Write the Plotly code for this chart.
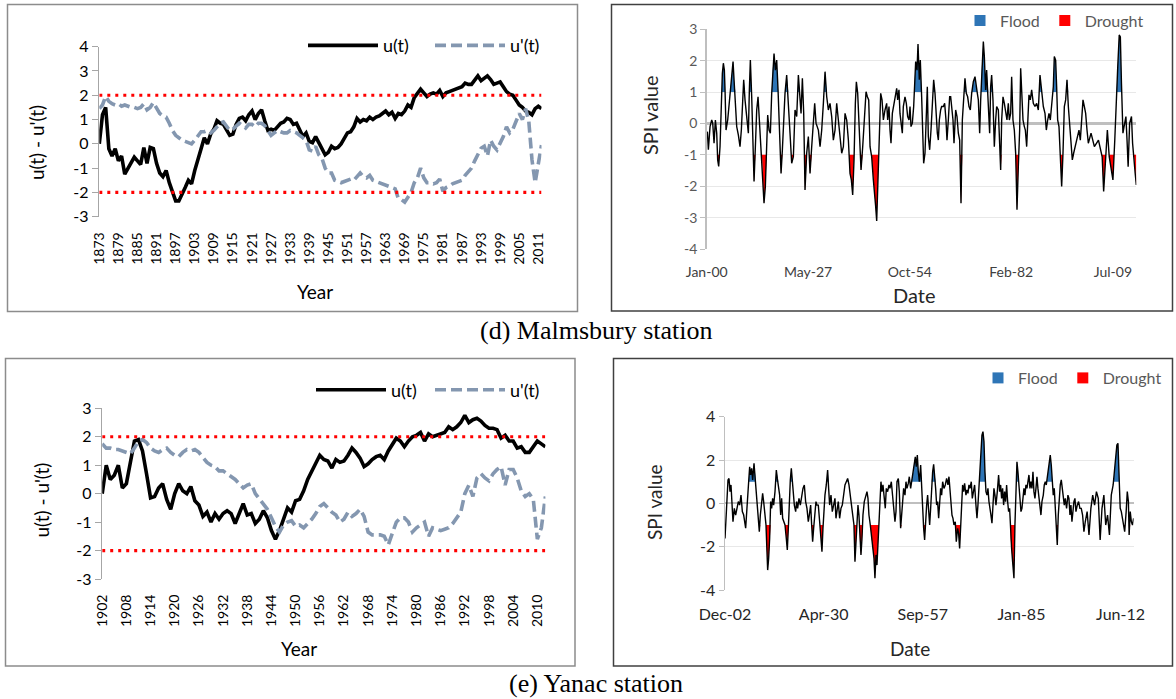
import plotly.graph_objects as go

W, H = 1176, 699


def px(x):
    return x / W


def py(y):
    return 1 - y / H


# ---------------- (d) Malmsbury: u(t), u'(t) ----------------
years_malmsbury = list(range(1873, 2013))
u_malmsbury = [
    0.0, 1.2, 1.5, -0.2, -0.5, -0.2, -0.7, -0.5, -1.25, -1.0,
    -0.8, -0.55, -0.7, -0.85, -0.15, -0.8, -0.15, -0.2, -0.8, -1.2,
    -1.35, -1.1, -1.6, -2.0, -2.35, -2.35, -2.1, -1.8, -1.5, -1.65,
    -1.1, -0.6, -0.2, 0.25, 0.0, 0.4, 0.6, 0.95, 0.85, 0.8,
    0.6, 0.35, 0.4, 0.8, 1.05, 1.1, 0.95, 1.2, 1.35, 1.0,
    1.25, 1.4, 0.95, 0.55, 0.6, 0.55, 0.7, 0.85, 0.9, 1.05,
    1.0, 0.8, 0.85, 0.6, 0.3, 0.45, 0.1, 0.05, 0.3, 0.05,
    -0.2, -0.45, -0.35, -0.1, -0.2, -0.15, 0.0, 0.2, 0.45, 0.5,
    0.7, 1.05, 0.9, 1.0, 0.95, 1.1, 1.0, 1.1, 1.15, 1.25,
    1.35, 1.2, 1.3, 1.05, 1.25, 1.2, 1.35, 1.6, 1.5, 1.9,
    2.1, 2.25, 2.1, 1.95, 2.05, 2.1, 2.05, 2.2, 1.95, 2.1,
    2.15, 2.2, 2.25, 2.3, 2.35, 2.5, 2.45, 2.45, 2.6, 2.8,
    2.6, 2.7, 2.8, 2.65, 2.45, 2.5, 2.55, 2.35, 2.15, 2.05,
    2.0, 1.8, 1.6, 1.5, 1.35, 1.3, 1.2, 1.45, 1.55, 1.45,
]
uprime_malmsbury = [
    1.45, 1.6, 1.95, 1.75, 1.65, 1.6, 1.65, 1.55, 1.6, 1.55,
    1.5, 1.5, 1.45, 1.5, 1.65, 1.4, 1.5, 1.7, 1.45, 1.25,
    1.15, 1.1, 0.85, 0.55, 0.35, 0.25, 0.15, 0.1, 0.05, 0.0,
    0.15, 0.3, 0.5, 0.5, 0.55, 0.45, 0.55, 0.7, 0.85, 0.9,
    0.75, 0.55, 0.6, 0.75, 0.85, 0.75, 0.65, 0.8, 0.8, 0.7,
    0.85, 0.85, 0.75, 0.55, 0.35, 0.45, 0.55, 0.5, 0.45, 0.45,
    0.55, 0.5, 0.45, 0.35, 0.25, 0.15, -0.25, -0.3, -0.1, -0.45,
    -0.6, -1.0, -1.2, -1.2, -1.5, -1.55, -1.6, -1.55, -1.5, -1.45,
    -1.5, -1.35, -1.2, -1.35, -1.4, -1.3, -1.5, -1.55, -1.6, -1.65,
    -1.7, -1.75, -1.8, -1.85, -2.25, -2.3, -2.4, -2.2, -2.0, -1.6,
    -1.4, -1.0, -1.4, -1.6, -1.6, -1.65, -1.6, -1.45, -1.95, -1.8,
    -1.75, -1.65, -1.6, -1.55, -1.5, -1.3, -1.15, -1.0, -0.7, -0.45,
    -0.18, -0.1, -0.5, 0.15, -0.1, -0.25, 0.0, 0.3, 0.7, 0.45,
    0.6, 0.9, 1.25, 1.0, 1.45, 0.95, -0.65, -1.6, -0.8, -0.05,
]
tick_years_malmsbury = list(range(1873, 2013, 6))

# ---------------- (e) Yanac: u(t), u'(t) ----------------
years_yanac = list(range(1902, 2013))
u_yanac = [
    0.0, 1.0, 0.5, 0.65, 1.0, 0.2, 0.35, 1.1, 1.85, 1.9,
    1.5, 0.7, -0.15, -0.1, 0.2, 0.35, -0.2, -0.55, 0.0, 0.35,
    0.1, 0.0, 0.25, -0.25, -0.4, -0.8, -0.65, -1.0, -0.7, -0.9,
    -0.7, -0.6, -0.7, -1.05, -0.7, -0.35, -0.75, -0.7, -1.05, -0.9,
    -0.6, -0.85, -1.3, -1.6, -1.3, -0.9, -0.5, -0.65, -0.25, -0.2,
    0.1, 0.5, 0.8, 1.1, 1.35, 1.2, 1.15, 0.9, 1.2, 1.1,
    1.15, 1.35, 1.6, 1.45, 1.25, 0.95, 1.05, 1.2, 1.3, 1.35,
    1.2, 1.5, 1.75, 1.95, 1.85, 1.65, 1.85, 2.0, 2.05, 2.15,
    1.85, 2.1, 2.0, 2.05, 2.1, 2.15, 2.35, 2.25, 2.35, 2.5,
    2.75, 2.5, 2.6, 2.65, 2.55, 2.4, 2.3, 2.3, 2.25, 1.95,
    2.05, 1.85, 1.85, 1.6, 1.65, 1.45, 1.45, 1.65, 1.85, 1.75,
    1.65,
]
uprime_yanac = [
    1.75, 1.6, 1.6, 1.55, 1.55, 1.5, 1.45, 1.4, 1.6, 1.85,
    1.9, 1.8, 1.6, 1.5, 1.45, 1.55, 1.6, 1.45, 1.35, 1.3,
    1.45, 1.55, 1.5, 1.55, 1.45, 1.25, 1.1, 1.0, 0.95, 0.8,
    0.8, 0.7, 0.6, 0.5, 0.35, 0.2, 0.3, 0.35, 0.0, -0.2,
    -0.4, -0.55, -0.85, -1.15, -1.35, -1.1, -1.0, -0.95, -1.15, -1.1,
    -1.2, -1.05, -0.9, -0.7, -0.45, -0.35, -0.5, -0.65, -0.75, -1.0,
    -0.9, -0.65, -0.8, -0.7, -0.55, -0.8, -1.35, -1.45, -1.45, -1.45,
    -1.5, -1.8, -1.4, -1.0, -0.85, -0.85, -1.0, -1.35, -1.2, -1.1,
    -1.0, -1.5, -1.2, -1.25, -1.3, -1.25, -1.2, -1.05, -0.85, -0.65,
    0.0, 0.3, -0.1, 0.55, 0.7, 0.55, 0.45, 0.7, 0.85, 0.95,
    0.3, 0.85, 0.85, 0.55, 0.1, -0.1, 0.0, -0.2, -1.6, -1.2,
    -0.1,
]
tick_years_yanac = list(range(1902, 2013, 6))

significance_limits = [2, -2]
u_ticks = [-3, -2, -1, 0, 1, 2, 3, 4]
u_ticks_yanac = [-3, -2, -1, 0, 1, 2, 3]

# ---------------- SPI Malmsbury (decimal year, SPI) ----------------
spi_malmsbury_t = [
    1900.18, 1900.45, 1900.90, 1901.35, 1901.62, 1901.98, 1902.34, 1902.70, 1902.96, 1903.23,
    1903.59, 1903.95, 1904.22, 1904.49, 1904.76, 1904.94, 1905.21, 1905.66, 1906.11, 1906.47,
    1906.83, 1907.10, 1907.37, 1907.73, 1908.09, 1908.54, 1908.98, 1909.34, 1909.70, 1909.97,
    1910.33, 1910.78, 1911.23, 1911.50, 1911.77, 1912.13, 1912.40, 1912.76, 1913.12, 1913.48,
    1913.84, 1914.20, 1914.56, 1914.91, 1915.18, 1915.45, 1915.81, 1916.17, 1916.44, 1916.80,
    1917.16, 1917.52, 1917.79, 1918.15, 1918.51, 1918.87, 1919.23, 1919.50, 1919.77, 1920.04,
    1920.40, 1920.75, 1921.11, 1921.56, 1922.01, 1922.46, 1922.91, 1923.36, 1923.81, 1924.26,
    1924.71, 1925.07, 1925.43, 1925.79, 1926.15, 1926.50, 1926.95, 1927.40, 1927.85, 1928.30,
    1928.75, 1929.11, 1929.47, 1930.10, 1930.55, 1931.00, 1931.45, 1931.90, 1932.35, 1932.79,
    1933.24, 1933.69, 1934.14, 1934.59, 1935.04, 1935.49, 1935.94, 1936.39, 1936.84, 1937.29,
    1937.74, 1938.19, 1938.63, 1938.99, 1939.35, 1939.71, 1940.07, 1940.34, 1940.70, 1941.06,
    1941.33, 1941.60, 1942.05, 1942.41, 1942.95, 1943.31, 1943.67, 1944.03, 1944.47, 1944.92,
    1945.28, 1945.55, 1945.82, 1946.18, 1946.54, 1946.90, 1947.26, 1947.62,
    1948.06, 1948.51, 1948.78, 1949.14, 1949.41, 1949.68, 1950.04, 1950.31, 1950.76, 1951.21,
    1951.47, 1951.83, 1952.10, 1952.37, 1952.73, 1953.00, 1953.45, 1953.81, 1954.17, 1954.53,
    1954.80, 1955.07, 1955.43, 1955.79, 1955.97, 1956.33, 1956.69, 1956.96, 1957.31, 1957.58,
    1957.94, 1958.21, 1958.48, 1958.84, 1959.11, 1959.47, 1959.74, 1960.10, 1960.46, 1960.82,
    1961.18, 1961.54, 1961.81, 1962.17, 1962.44, 1962.71, 1963.06, 1963.33, 1963.78, 1964.14,
    1964.50, 1964.77, 1965.13, 1965.49, 1965.76, 1966.03, 1966.39, 1966.66, 1967.11, 1967.47,
    1967.83, 1968.19, 1968.55, 1968.91, 1969.26, 1969.62, 1969.98, 1970.34, 1970.70, 1971.06,
    1971.42, 1971.87, 1972.32, 1972.59, 1972.95, 1973.22, 1973.58, 1973.85, 1974.12, 1974.39,
    1974.57, 1974.84, 1975.19, 1975.46, 1975.91, 1976.27, 1976.54, 1976.81, 1977.17, 1977.53,
    1977.89, 1978.16, 1978.61, 1978.97, 1979.24, 1979.51, 1979.87, 1980.23, 1980.59, 1980.94,
    1981.30, 1981.57, 1981.93, 1982.20, 1982.56, 1982.92, 1983.28, 1983.64, 1984.00, 1984.36,
    1984.63, 1984.90, 1985.26, 1985.62, 1985.89, 1986.25, 1986.52, 1986.87, 1987.23, 1987.59,
    1988.04, 1988.49, 1988.94, 1989.39, 1989.84, 1990.29, 1990.74, 1991.19, 1991.55, 1991.91,
    1992.27, 1992.62, 1992.98, 1993.43, 1993.70, 1994.06, 1994.33, 1994.60, 1994.96, 1995.32,
    1995.68, 1996.04, 1996.40, 1996.76, 1997.12, 1997.48, 1997.84, 1998.20, 1998.55, 1998.91,
    1999.27, 1999.63, 1999.99, 2000.35, 2000.71, 2001.07, 2001.43, 2001.79, 2002.15, 2002.51,
    2002.87,
    2003.6, 2004.5, 2005.6, 2006.6, 2007.0, 2007.5, 2008.0, 2008.5, 2009.0, 2009.5,
    2010.0, 2010.3, 2010.8, 2011.2, 2011.5, 2011.8, 2012.2, 2012.5, 2013.0, 2013.3,
    2013.6, 2014.0, 2014.5, 2014.8, 2015.2, 2015.5, 2015.8,
]
spi_malmsbury_v = [
    -0.26, -0.84, -0.10, 0.11, 0.01, -0.63, 0.11, -0.31, -1.16, -1.37,
    -0.74, 0.64, 1.60, 1.92, 1.70, 1.07, -0.21, 0.11, 0.64, 1.17,
    1.70, 1.97, 1.39, 0.54, -0.10, -0.37, -0.74, -0.21, 0.85, 1.39,
    0.75, 0.11, -0.31, 1.07, 2.02, 0.85, -0.21, -1.85, -0.74, 0.43,
    0.85, 0.11, -0.63, -1.06, -1.69, -2.54, -2.01, -0.74, 0.27, -0.21,
    -0.31, 0.96, 1.70, 2.23, 1.70, 2.02, 1.07, -0.10, -0.53, -1.59,
    -0.84, 0.11, 0.96, 1.54, 0.75, -0.31, -1.27, -1.06, 0.43, 0.22,
    1.54, 0.85, 0.32, 1.44, 0.32, -2.12, -0.95, -0.42, -1.59, -0.74,
    0.11, 0.64, 0.01, -0.21, -0.74, -0.21, 0.64, 1.65, 0.85, 0.43,
    0.64, 0.22, -0.53, -0.21, 0.64, 0.11, -0.21, -0.95, -0.74, 0.32,
    0.11, -0.53, -1.59, -1.80, -2.28, -1.16, 0.64, 1.33, 0.96, 0.11,
    -0.74, -1.48, -0.74, 0.11, 1.01, 0.85, 0.75, -0.74, -1.06, -1.80,
    -2.22, -2.65, -3.11, -1.80, 0.11, 0.96, 0.75, 0.11,
    0.43, 0.64, 0.11, 0.54, -0.21, -0.63, 0.32, 0.54, 0.85, 1.12,
    0.75, 1.07, 0.32, 0.11, -0.31, 0.54, 0.85, 0.64, 0.22, 0.11,
    0.54, -0.10, 0.01, 0.54, 1.17, 1.97, 1.70, 2.53, 1.39, 2.02,
    0.85, -0.10, -1.27, -0.95, 0.32, 1.17, -0.42, -0.84, -0.21, 0.64,
    1.39, 0.96, 0.32, -0.31, -0.53, 0.11, 0.43, 0.54, 0.54, 0.64,
    0.11, -0.53, 0.11, 0.85, 0.85, 0.54, 0.11, -0.63, 0.43, 0.22,
    -0.31, -0.53, -2.54, 0.11, 0.85, 1.44, 0.96, 0.85, 0.54, 0.43,
    0.96, 1.33, 1.49, 1.17, 0.96, 0.75, -0.31, 0.75, 1.70, 2.13,
    2.61, 2.13, 1.07, 1.70, 0.64, -0.31, 1.17, 1.54, 0.75, -0.74,
    0.11, 0.54, 0.43, -0.42, -1.48, 0.11, 0.85, 0.64, 0.32, 0.11,
    0.64, 0.11, 0.32, 1.49, 0.11, -0.21, -0.95, -2.75, -1.37, -0.21,
    1.76, 1.17, 0.11, -0.10, -0.21, -0.74, -0.10, 0.91, 0.75, 1.07,
    0.64, 0.54, 0.64, 0.43, 1.54, 0.96, 0.54, 0.32, -0.21, 0.11,
    0.32, 0.11, 0.64, 1.17, 2.13, 2.02, 1.17, 0.11, -0.10, -0.95,
    -2.01, -0.95, 0.54, 0.75, 1.39, 0.54, -0.10, -0.53, -1.16, -0.95,
    -0.74, -0.53, -0.42, -0.21, -0.53, 0.11, 0.75, 0.54, 0.32, -0.21,
    -0.63,
    -0.31, -0.74, -0.53, -1.06, -2.17, -1.16, -0.21, -1.06, -1.38, -1.80,
    -0.53, 0.54, 1.81, 2.82, 2.76, 1.28, -0.31, -0.10, 0.22, -0.53,
    -1.38, 0.00, 0.22, -0.63, -1.06, -1.59, -1.96,
]
malmsbury_date_ticks = [1900.0, 1927.33, 1954.75, 1982.08, 2009.5]
malmsbury_date_labels = ["Jan-00", "May-27", "Oct-54", "Feb-82", "Jul-09"]
spi_ticks_malmsbury = [-4, -3, -2, -1, 0, 1, 2, 3]

# ---------------- SPI Yanac (decimal year, SPI) ----------------
spi_yanac_t = [
    1902.92, 1903.20, 1903.47, 1903.75, 1904.03, 1904.30, 1904.58, 1904.86, 1905.13, 1905.50,
    1905.87, 1906.24, 1906.61, 1906.98, 1907.35, 1907.72, 1908.09, 1908.64, 1908.92, 1909.19,
    1909.47, 1909.75, 1910.02, 1910.30, 1910.58, 1910.95, 1911.22, 1911.50, 1911.78, 1912.15,
    1912.42, 1912.70, 1913.07, 1913.34, 1913.62, 1913.99, 1914.27, 1914.54, 1914.73, 1915.00,
    1915.28, 1915.56, 1915.83, 1916.11, 1916.39, 1916.76, 1917.13, 1917.40, 1917.68, 1918.05,
    1918.33, 1918.60, 1918.88, 1919.16, 1919.53, 1919.89, 1920.17, 1920.45, 1920.72, 1921.00,
    1921.28, 1921.55, 1921.83, 1922.11, 1922.48, 1922.75, 1923.03, 1923.40, 1923.77, 1924.14,
    1924.51, 1924.88, 1925.24, 1925.61, 1925.98, 1926.26, 1926.63, 1926.91, 1927.18, 1927.46,
    1927.83, 1928.10, 1928.38, 1928.75, 1929.12, 1929.49, 1929.76, 1930.04, 1930.32, 1930.59,
    1930.96, 1931.33, 1931.61, 1931.89, 1932.26, 1932.62, 1932.99, 1933.36, 1933.64, 1934.01,
    1934.28, 1934.65, 1935.02, 1935.39, 1935.76, 1936.13, 1936.50, 1936.87, 1937.24, 1937.61,
    1937.98, 1938.25, 1938.62, 1938.90, 1939.17, 1939.45, 1939.73, 1940.00, 1940.28, 1940.56,
    1940.84, 1941.11, 1941.48, 1941.85, 1942.22, 1942.50, 1942.77, 1943.14, 1943.51, 1943.79,
    1944.16, 1944.43, 1944.71, 1944.99, 1945.26, 1945.54, 1945.82, 1946.09, 1946.37, 1946.65,
    1947.02, 1947.29, 1947.57, 1947.94, 1948.31,
    1948.59, 1948.96, 1949.33, 1949.70, 1949.97, 1950.25, 1950.53, 1950.90, 1951.17, 1951.54,
    1951.82, 1952.10, 1952.37, 1952.74, 1953.02, 1953.30, 1953.66, 1953.94, 1954.31, 1954.68,
    1955.05, 1955.32, 1955.60, 1955.88, 1956.16, 1956.43, 1956.71, 1957.08, 1957.35, 1957.63,
    1957.91, 1958.18, 1958.46, 1958.74, 1959.01, 1959.29, 1959.57, 1959.85, 1960.12, 1960.40,
    1960.68, 1960.95, 1961.23, 1961.51, 1961.78, 1962.06, 1962.34, 1962.61, 1962.89, 1963.17,
    1963.54, 1963.90, 1964.27, 1964.64, 1964.92, 1965.20, 1965.47, 1965.75, 1966.03, 1966.30,
    1966.67, 1966.95, 1967.32, 1967.59, 1967.87, 1968.15, 1968.42, 1968.70, 1968.98, 1969.25,
    1969.62, 1969.90, 1970.18, 1970.45, 1970.73, 1971.10, 1971.38, 1971.65, 1972.02, 1972.39,
    1972.67, 1972.94, 1973.22, 1973.50, 1973.78, 1974.05, 1974.33, 1974.61, 1974.88, 1975.16,
    1975.44, 1975.71, 1975.99, 1976.27, 1976.54, 1976.82, 1977.10, 1977.37, 1977.65, 1977.93,
    1978.30, 1978.66, 1978.94, 1979.22, 1979.49, 1979.77, 1980.05, 1980.32, 1980.60, 1980.88,
    1981.16, 1981.43, 1981.71, 1981.99, 1982.26, 1982.54, 1982.91, 1983.18, 1983.46, 1983.74,
    1984.01, 1984.29, 1984.57, 1984.85, 1985.12, 1985.40, 1985.68, 1985.95, 1986.23, 1986.51,
    1986.78, 1987.06, 1987.34, 1987.61, 1987.89, 1988.17, 1988.44, 1988.72, 1989.00, 1989.27,
    1989.55, 1989.83, 1990.10, 1990.38, 1990.66, 1991.03, 1991.30, 1991.58, 1991.86, 1992.13,
    1992.41, 1992.69, 1992.96, 1993.24, 1993.52, 1993.79, 1994.07, 1994.35, 1994.62, 1994.90,
    1995.18, 1995.45, 1995.73, 1996.01, 1996.28, 1996.56, 1996.84, 1997.11, 1997.48, 1997.85,
    1998.13, 1998.41, 1998.68, 1998.96, 1999.24, 1999.51, 1999.79, 2000.07, 2000.44, 2000.80,
    2001.17, 2001.54, 2001.91, 2002.28,
    2002.65, 2003.17, 2003.68, 2004.20, 2004.71, 2005.23, 2005.74, 2006.25, 2006.77, 2007.28,
    2007.80, 2008.31, 2008.82, 2009.34, 2009.85, 2010.37, 2010.88, 2011.40, 2011.70, 2012.01,
    2012.32, 2012.63, 2012.94, 2013.25, 2013.56, 2013.97, 2014.28, 2014.59, 2014.79, 2015.10,
    2015.41, 2015.72, 2016.03,
]
spi_yanac_v = [
    -1.62, -0.69, 0.54, 1.08, 1.15, 0.54, 0.85, -0.08, -0.85, -0.23,
    -0.54, -0.23, 0.08, -0.08, 0.38, -0.38, -0.54, -1.15, -0.23, 0.54,
    1.00, 1.69, 1.31, 1.62, 1.08, 1.85, 1.31, 0.69, 0.23, -0.54,
    -1.31, -0.54, -0.08, 0.46, 0.08, -0.54, -1.00, -2.23, -3.08, -2.54,
    -1.62, 0.08, -0.23, 0.23, -0.08, 0.54, 1.54, 1.15, 0.85, 0.38,
    -0.54, 0.23, -0.69, -0.85, -1.00, -1.62, -2.15, -1.15, 0.38, 1.08,
    1.62, 1.00, 0.23, -0.08, -0.38, 0.08, -0.23, 0.23, -0.08, 0.38,
    0.69, 0.85, 0.08, -0.23, -0.85, -0.54, -0.08, -1.00, -1.77, -1.15,
    -0.23, 0.08, -0.08, -0.08, -0.85, -1.62, -2.23, -1.15, -0.23, 0.38,
    0.85, 1.54, 0.69, -0.08, 0.38, -0.38, -0.08, 0.23, -0.69, -0.23,
    0.08, -0.69, -0.23, -0.08, 0.54, 0.85, 1.00, 1.15, 0.85, 0.38,
    0.08, -0.38, -1.00, -2.69, -1.62, -0.54, -0.08, -0.54, -1.77, -2.38,
    -1.62, -0.54, 0.08, 0.38, 0.54, 0.23, -0.54, -1.00, -1.62, -1.92,
    -2.54, -3.46, -2.38, -2.85, -1.92, -0.69, 0.69, 1.00, 0.54, 0.85,
    0.23, -0.23, 0.69, 0.54, 0.85,
    0.69, 1.00, 0.38, -0.23, -0.85, -0.38, 1.00, 1.15, 0.54, -1.15,
    -0.69, 0.08, 0.69, 0.38, 1.00, 0.69, 0.92, 1.23, 0.69, 1.15,
    1.46, 1.92, 2.15, 1.69, 2.23, 1.46, 1.00, 1.77, 0.54, -0.38,
    -1.15, -1.69, -0.54, -0.08, 0.38, -0.54, -1.00, -0.23, 1.00, 1.46,
    1.80, 1.31, 0.69, -0.08, 0.08, -0.69, 0.08, 0.69, 0.38, 1.00,
    0.69, 0.85, 1.15, 0.85, 1.23, 0.69, -0.08, -0.54, -0.69, -1.00,
    -0.85, -1.77, -1.15, -1.38, -2.08, -1.15, -0.08, 0.85, 0.54, 0.92,
    0.38, 0.62, 0.46, 0.85, 0.69, 1.00, 0.23, 0.54, 0.85, -0.08,
    -0.69, -0.08, 0.85, 1.46, 2.69, 3.15, 3.31, 2.85, 1.46, 0.54,
    0.38, 0.69, 0.08, -0.38, -0.54, -0.92, 0.08, 0.69, 0.38, -0.08,
    0.54, 1.31, 0.54, 0.85, 0.23, 0.69, -0.08, 0.54, 0.08, 0.85,
    0.08, -0.38, -0.23, -1.62, -2.08, -2.69, -3.46, -1.00, 0.85, 1.92,
    1.46, 0.85, -0.08, -0.38, -0.23, 0.23, 0.69, 0.38, 0.85, 0.69,
    1.00, 1.31, 0.69, 1.00, 0.69, 1.46, 0.54, 0.23, 0.69, 1.23,
    0.69, 0.23, -0.23, -0.54, 0.08, 0.38, 0.85, 1.00, 0.85, 1.15,
    1.46, 1.85, 2.23, 1.77, 1.00, 0.38, 0.69, -0.08, -1.15, -1.92,
    -0.54, 0.54, 0.85, 1.08, 0.69, 0.38, -0.08, 0.23, -0.23, 0.38,
    0.23, -0.54, -0.08, -0.85, -0.23, 0.08, 0.23, -0.38, -0.08, 0.08,
    -0.23, -0.23, -0.54, -1.31,
    -0.85, -0.38, -1.46, -0.23, 0.38, -0.08, 0.54, 0.23, -1.69, -0.23,
    0.38, -1.00, -0.54, -1.46, 0.38, 0.85, 1.77, 2.69, 2.77, 1.46,
    -0.23, -0.38, -0.69, -1.00, -1.31, -0.38, 0.54, 0.08, -1.46, -0.38,
    -0.85, -1.00, -0.69,
]
yanac_date_ticks = [1902.92, 1930.25, 1957.67, 1985.0, 2012.42]
yanac_date_labels = ["Dec-02", "Apr-30", "Sep-57", "Jan-85", "Jun-12"]
spi_ticks_yanac = [-4, -2, 0, 2, 4]

flood_level = 1
drought_level = -1

assert len(u_malmsbury) == len(years_malmsbury) == len(uprime_malmsbury)
assert len(u_yanac) == len(years_yanac) == len(uprime_yanac)
assert len(spi_malmsbury_t) == len(spi_malmsbury_v)
assert len(spi_yanac_t) == len(spi_yanac_v)

FONT = "Lato"
BLACK = "#000000"
UPRIME = "#8497B0"
RED = "#FF0000"
FLOOD = "#2E75B6"
AXIS_GRAY = "#A6A6A6"


def band(xs, ys, thr, above):
    """Part of the SPI curve beyond a threshold, with crossing points added."""
    bx, by = [], []
    for i in range(len(xs)):
        if i > 0:
            x0, y0, x1, y1 = xs[i - 1], ys[i - 1], xs[i], ys[i]
            if (y0 - thr) * (y1 - thr) < 0:
                t = (thr - y0) / (y1 - y0)
                bx.append(x0 + t * (x1 - x0))
                by.append(thr)
        bx.append(xs[i])
        by.append(max(ys[i], thr) if above else min(ys[i], thr))
    return bx, by


def hy(v):
    return [str(t) for t in v]


fig = go.Figure()

# ---- panel geometry (pixels) ----
P1 = dict(x0=99.3, x1=541.5, ytop=46.7, ybot=216.7)
P3 = dict(x0=102.2, x1=545.4, ytop=408.3, ybot=579.0)
P2 = dict(x0=706.7, x1=1136.3, ytop=29.3, ybot=249.0)
P4 = dict(x0=725.0, x1=1133.6, ytop=416.7, ybot=590.0)


def trend_panel(years, u, up, xa, ya, legend_name):
    fig.add_trace(go.Scatter(x=years, y=u, mode="lines", name="u(t)",
                             line=dict(color=BLACK, width=3.6),
                             xaxis=xa, yaxis=ya, legend=legend_name))
    fig.add_trace(go.Scatter(x=years, y=up, mode="lines", name="u'(t)",
                             line=dict(color=UPRIME, width=3.6, dash="11px,5px"),
                             xaxis=xa, yaxis=ya, legend=legend_name))
    for lim in significance_limits:
        fig.add_trace(go.Scatter(x=[years[0], years[-1]], y=[lim, lim], mode="lines",
                                 line=dict(color=RED, width=3.2, dash="3px,5px"),
                                 showlegend=False, hoverinfo="skip",
                                 xaxis=xa, yaxis=ya))


def spi_panel(ts, vs, xa, ya, legend_name):
    for thr, above, col in [(flood_level, True, FLOOD), (drought_level, False, RED)]:
        fig.add_trace(go.Scatter(x=[ts[0], ts[-1]], y=[thr, thr], mode="lines",
                                 line=dict(width=0, color=col), showlegend=False,
                                 hoverinfo="skip", xaxis=xa, yaxis=ya))
        bx, by = band(ts, vs, thr, above)
        fig.add_trace(go.Scatter(x=bx, y=by, mode="lines", fill="tonexty",
                                 fillcolor=col, line=dict(width=0, color=col),
                                 showlegend=False, hoverinfo="skip",
                                 xaxis=xa, yaxis=ya))
    fig.add_trace(go.Scatter(x=ts, y=vs, mode="lines", line=dict(color=BLACK, width=1.4),
                             showlegend=False, xaxis=xa, yaxis=ya))
    for name, col in [("Flood", FLOOD), ("Drought", RED)]:
        fig.add_trace(go.Scatter(x=[None], y=[None], mode="markers", name=name,
                                 marker=dict(symbol="square", size=11, color=col),
                                 xaxis=xa, yaxis=ya, legend=legend_name))


trend_panel(years_malmsbury, u_malmsbury, uprime_malmsbury, "x", "y", "legend")
spi_panel(spi_malmsbury_t, spi_malmsbury_v, "x2", "y2", "legend2")
trend_panel(years_yanac, u_yanac, uprime_yanac, "x3", "y3", "legend3")
spi_panel(spi_yanac_t, spi_yanac_v, "x4", "y4", "legend4")


def dom_x(p):
    return [px(p["x0"]), px(p["x1"])]


def dom_y(p):
    return [py(p["ybot"]), py(p["ytop"])]


def trend_axes(p, years, ticks_years, yticks, yrange):
    xa = dict(domain=dom_x(p), range=[years[0], years[-1]], tickmode="array",
              tickvals=ticks_years, ticktext=[str(t) for t in ticks_years],
              tickangle=-90, ticks="outside", ticklen=9, tickcolor="rgba(0,0,0,0)",
              showline=False, showgrid=False, zeroline=False, automargin=False,
              tickfont=dict(family=FONT, size=14, color=BLACK))
    ya = dict(domain=dom_y(p), range=yrange, tickmode="array", tickvals=yticks,
              ticktext=hy(yticks), ticks="outside", ticklen=6, tickcolor=AXIS_GRAY,
              showline=True, linecolor=AXIS_GRAY, linewidth=1.5, showgrid=False,
              zeroline=False, automargin=False,
              tickfont=dict(family=FONT, size=16, color=BLACK))
    frac0 = (0 - yrange[0]) / (yrange[1] - yrange[0])
    d = dom_y(p)
    zero_axis = dict(overlaying=None, anchor="free",
                     position=d[0] + frac0 * (d[1] - d[0]),
                     range=[years[0], years[-1]], tickmode="linear", tick0=years[0],
                     dtick=1, ticks="outside", ticklen=5, tickwidth=1,
                     tickcolor=AXIS_GRAY, showline=True, linecolor=AXIS_GRAY,
                     linewidth=2, showticklabels=False, showgrid=False, zeroline=False,
                     automargin=False)
    return xa, ya, zero_axis


def spi_axes(p, xr, tvals, tlabels, yticks, yrange, fs, ycol, xcol):
    xa = dict(domain=dom_x(p), range=xr, tickmode="array", tickvals=tvals,
              ticktext=tlabels, ticks="outside", ticklen=10,
              tickcolor="rgba(0,0,0,0)", showline=False, showgrid=False,
              zeroline=False, tickangle=0, automargin=False,
              tickfont=dict(family=FONT, size=fs, color=xcol))
    ya = dict(domain=dom_y(p), range=yrange, tickmode="array", tickvals=yticks,
              ticktext=hy(yticks), ticks="outside", ticklen=5, tickcolor="#BFBFBF",
              showline=True, linecolor="#BFBFBF", linewidth=1.5, showgrid=True,
              gridcolor="#E8E8E8", gridwidth=1, zeroline=True,
              zerolinecolor="#BFBFBF", zerolinewidth=2.2, automargin=False,
              tickfont=dict(family=FONT, size=fs, color=ycol))
    return xa, ya


x1a, y1a, z1 = trend_axes(P1, years_malmsbury, tick_years_malmsbury, u_ticks, [-3, 4])
x3a, y3a, z3 = trend_axes(P3, years_yanac, tick_years_yanac, u_ticks_yanac, [-3, 3])
z1["overlaying"] = "x"
z3["overlaying"] = "x3"
x2a, y2a = spi_axes(P2, [1900.0, spi_malmsbury_t[-1]], malmsbury_date_ticks,
                    malmsbury_date_labels, spi_ticks_malmsbury, [-4, 3], 14,
                    "#595959", "#404040")
x4a, y4a = spi_axes(P4, [1902.92, spi_yanac_t[-1]], yanac_date_ticks,
                    yanac_date_labels, spi_ticks_yanac, [-4, 4], 16,
                    "#262626", "#262626")

x1a["anchor"] = "y"; y1a["anchor"] = "x"
x2a["anchor"] = "y2"; y2a["anchor"] = "x2"
x3a["anchor"] = "y3"; y3a["anchor"] = "x3"
x4a["anchor"] = "y4"; y4a["anchor"] = "x4"


def legend_at(x, y, size, itemwidth, entrywidth=None):
    d = dict(orientation="h", x=px(x), y=py(y), xanchor="left", yanchor="middle",
             bgcolor="rgba(0,0,0,0)", borderwidth=0, itemwidth=itemwidth,
             font=dict(family=FONT, size=size, color="#000000"),
             traceorder="normal", itemclick=False, itemdoubleclick=False)
    if entrywidth:
        d["entrywidth"] = entrywidth
        d["entrywidthmode"] = "pixels"
    return d


leg1 = legend_at(303, 45.7, 18, 70, 42)
leg3 = legend_at(311, 390, 18, 70, 34)
leg2 = legend_at(960, 20.5, 16, 30)
leg2["font"]["color"] = "#595959"
leg4 = legend_at(978, 378, 16, 30)
leg4["font"]["color"] = "#595959"


def ann(text, x, y, size, angle=0, color="#000000", family=FONT):
    return dict(text=text, x=px(x), y=py(y), xref="paper", yref="paper",
                showarrow=False, textangle=angle, xanchor="center", yanchor="middle",
                font=dict(family=family, size=size, color=color))


annotations = [
    ann("u(t) - u'(t)", 36, 143, 19, -90),
    ann("Year", 315, 292, 19),
    ann("u(t) - u'(t)", 40.6, 500, 19, -90),
    ann("Year", 299, 648, 19),
    ann("SPI value", 650, 115, 20, -90, "#262626"),
    ann("Date", 914, 295, 20, 0, "#262626"),
    ann("SPI value", 654, 502, 19, -90, "#262626"),
    ann("Date", 910, 648, 19, 0, "#262626"),
    ann("(d) Malmsbury station", 596, 330, 26, 0, "#000000", "Liberation Serif"),
    ann("(e) Yanac station", 596, 683, 26, 0, "#000000", "Liberation Serif"),
]


def box(x0, y0, x1, y1, color):
    return dict(type="rect", xref="paper", yref="paper", x0=px(x0), x1=px(x1),
                y0=py(y1), y1=py(y0), line=dict(color=color, width=1.5),
                fillcolor="rgba(0,0,0,0)", layer="below")


shapes = [
    box(7.5, 4.5, 577.5, 311.5, "#8C8C8C"),
    box(611.5, 4.5, 1172.5, 311.0, "#404040"),
    box(5.5, 358.5, 575.0, 666.0, "#8C8C8C"),
    box(613.5, 358.5, 1172.5, 666.0, "#404040"),
]

fig.update_layout(
    template="none",
    width=W, height=H, autosize=False,
    margin=dict(l=0, r=0, t=0, b=0, pad=0, autoexpand=False),
    paper_bgcolor="white", plot_bgcolor="white",
    font=dict(family=FONT),
    xaxis=x1a, yaxis=y1a, xaxis2=x2a, yaxis2=y2a,
    xaxis3=x3a, yaxis3=y3a, xaxis4=x4a, yaxis4=y4a,
    xaxis5=z1, xaxis6=z3,
    legend=leg1, legend2=leg2, legend3=leg3, legend4=leg4,
    annotations=annotations, shapes=shapes,
    hovermode=False,
)

fig.write_html(
    "out.html",
    config={"displayModeBar": False, "staticPlot": True},
    post_script="document.body.style.margin='0';document.body.style.overflow='hidden';",
)
